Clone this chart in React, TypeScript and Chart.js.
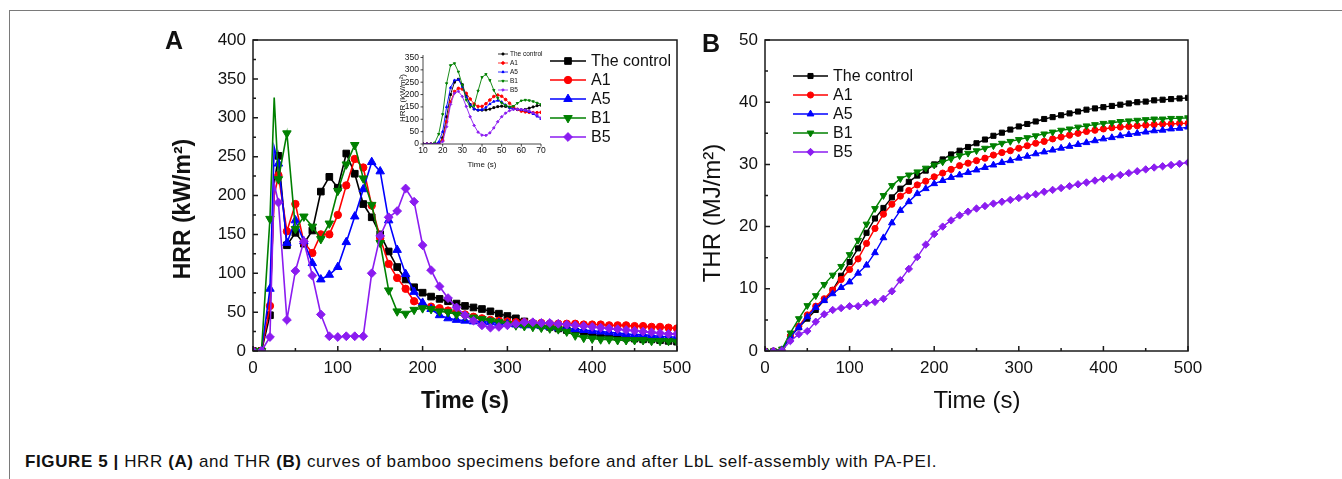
import React, { useEffect, useRef } from 'react';
import { Chart, registerables } from 'chart.js';

Chart.register(...registerables);

const FAMILY = '"Liberation Sans", Arimo, Arial, Helvetica, sans-serif';

// ---------------- data ----------------
const SERIES_NAMES = ['The control', 'A1', 'A5', 'B1', 'B5'];

// Panel A : HRR (kW/m2) vs time (s)
const TIME_A = [0, 10, 20, 25, 30, 40, 50, 60, 70, 80, 90, 100, 110, 120, 130, 140, 150, 160, 170, 180, 190, 200, 210, 220, 230, 240, 250, 260, 270, 280, 290, 300, 310, 320, 330, 340, 350, 360, 370, 380, 390, 400, 410, 420, 430, 440, 450, 460, 470, 480, 490, 500];
const HRR_CONTROL = [0, 0, 46, 215, 251, 136, 152, 138, 155, 205, 224, 210, 254, 228, 189, 172, 150, 128, 108, 92, 82, 75, 70, 67, 64, 61, 58, 56, 54, 51, 48, 45, 42, 38, 35, 33, 31, 29, 27, 25, 23, 21, 20, 19, 18, 17, 16, 15, 15, 14, 13, 12];
const HRR_A1 = [0, 0, 58, 200, 226, 154, 189, 140, 126, 150, 150, 175, 213, 247, 236, 187, 145, 112, 94, 80, 64, 58, 57, 55, 52, 50, 47, 44, 42, 40, 39, 38, 37, 37, 36, 36, 35, 35, 35, 35, 34, 34, 34, 33, 33, 33, 32, 32, 31, 31, 30, 29];
const HRR_A5 = [0, 0, 80, 262, 241, 139, 168, 141, 113, 92, 98, 108, 140, 173, 208, 243, 231, 168, 130, 99, 76, 62, 54, 46, 42, 40, 39, 38, 38, 37, 36, 35, 34, 33, 33, 32, 31, 30, 29, 28, 27, 26, 25, 24, 23, 22, 21, 21, 20, 19, 18, 18];
const HRR_B1 = [0, 0, 170, 326, 221, 280, 157, 173, 160, 144, 164, 206, 240, 265, 222, 188, 139, 78, 51, 48, 53, 55, 54, 51, 50, 47, 45, 43, 41, 39, 37, 35, 33, 32, 31, 30, 29, 28, 25, 20, 17, 16, 15, 15, 14, 14, 14, 14, 13, 13, 13, 12];
const HRR_B5 = [0, 0, 18, 215, 191, 40, 103, 141, 97, 47, 19, 18, 19, 19, 19, 100, 148, 172, 180, 209, 192, 136, 104, 83, 68, 56, 46, 39, 33, 30, 31, 33, 35, 37, 37, 36, 36, 35, 34, 33, 32, 31, 30, 29, 28, 27, 26, 25, 24, 23, 22, 22];

// Inset of panel A : HRR 10-70 s
const TIME_INSET = [10, 12, 14, 16, 18, 20, 22, 24, 26, 28, 30, 32, 34, 36, 38, 40, 42, 44, 46, 48, 50, 52, 54, 56, 58, 60, 62, 64, 66, 68, 70];
const INSET_CONTROL = [0, 0, 0, 0, 0, 25, 110, 200, 250, 262, 240, 195, 160, 142, 137, 137, 138, 141, 147, 151, 153, 152, 149, 144, 140, 138, 140, 145, 150, 155, 157];
const INSET_A1 = [0, 0, 0, 0, 0, 15, 90, 170, 212, 225, 222, 205, 182, 162, 152, 152, 163, 178, 192, 198, 193, 180, 165, 150, 140, 133, 130, 128, 127, 127, 128];
const INSET_A5 = [0, 0, 0, 0, 8, 50, 150, 228, 258, 260, 232, 190, 158, 141, 137, 139, 148, 162, 172, 176, 170, 158, 147, 141, 140, 139, 136, 130, 122, 112, 102];
const INSET_B1 = [0, 0, 0, 5, 40, 120, 245, 318, 326, 292, 238, 178, 150, 155, 215, 270, 282, 258, 218, 186, 166, 156, 150, 153, 165, 175, 178, 176, 172, 166, 160];
const INSET_B5 = [0, 0, 0, 0, 0, 10, 70, 160, 205, 213, 192, 152, 110, 75, 48, 36, 35, 45, 65, 90, 110, 125, 135, 140, 141, 140, 138, 134, 126, 117, 105];

// Panel B : THR (MJ/m2) vs time (s)
const TIME_B = [0, 10, 20, 30, 40, 50, 60, 70, 80, 90, 100, 110, 120, 130, 140, 150, 160, 170, 180, 190, 200, 210, 220, 230, 240, 250, 260, 270, 280, 290, 300, 310, 320, 330, 340, 350, 360, 370, 380, 390, 400, 410, 420, 430, 440, 450, 460, 470, 480, 490, 500];
const THR_CONTROL = [0, 0, 0.2, 2.3, 3.8, 5.2, 6.6, 8.2, 9.8, 12.1, 14.3, 16.5, 19.0, 21.3, 23.0, 24.7, 26.1, 27.2, 28.2, 29.0, 30.0, 30.8, 31.6, 32.2, 32.8, 33.4, 34.0, 34.6, 35.1, 35.6, 36.1, 36.5, 36.9, 37.3, 37.6, 37.9, 38.2, 38.5, 38.8, 39.0, 39.2, 39.4, 39.6, 39.8, 40.0, 40.1, 40.3, 40.4, 40.5, 40.6, 40.7];
const THR_A1 = [0, 0, 0.2, 2.4, 4.0, 5.8, 7.2, 8.4, 9.8, 11.5, 13.1, 14.8, 17.3, 19.7, 22.0, 23.6, 24.9, 25.8, 26.7, 27.3, 28.0, 28.6, 29.2, 29.8, 30.2, 30.6, 31.0, 31.5, 31.9, 32.2, 32.6, 33.0, 33.4, 33.7, 34.1, 34.4, 34.7, 35.0, 35.3, 35.5, 35.7, 35.9, 36.0, 36.1, 36.2, 36.3, 36.4, 36.5, 36.5, 36.6, 36.6];
const THR_A5 = [0, 0, 0.2, 2.3, 3.8, 5.5, 7.0, 8.1, 9.2, 10.2, 11.1, 12.5, 13.8, 15.8, 18.2, 20.6, 22.6, 24.0, 25.3, 26.1, 26.9, 27.4, 27.9, 28.3, 28.7, 29.1, 29.5, 29.9, 30.3, 30.6, 31.0, 31.3, 31.7, 32.0, 32.3, 32.6, 32.9, 33.2, 33.5, 33.8, 34.1, 34.3, 34.6, 34.8, 35.0, 35.2, 35.4, 35.5, 35.7, 35.8, 36.0];
const THR_B1 = [0, 0, 0.3, 2.9, 5.2, 7.3, 8.9, 10.7, 12.2, 13.6, 15.5, 17.8, 20.4, 22.9, 25.0, 26.6, 27.7, 28.3, 28.8, 29.4, 29.9, 30.4, 30.9, 31.4, 31.8, 32.2, 32.6, 33.0, 33.4, 33.7, 34.0, 34.3, 34.6, 34.9, 35.2, 35.5, 35.7, 36.0, 36.2, 36.4, 36.6, 36.7, 36.9, 37.0, 37.1, 37.2, 37.3, 37.3, 37.4, 37.4, 37.5];
const THR_B5 = [0, 0, 0.1, 1.6, 2.7, 3.2, 4.7, 5.9, 6.6, 6.9, 7.2, 7.2, 7.7, 7.9, 8.4, 9.6, 11.4, 13.2, 15.1, 17.1, 18.8, 20.0, 21.0, 21.8, 22.4, 22.9, 23.3, 23.7, 24.0, 24.3, 24.6, 24.9, 25.2, 25.6, 25.9, 26.2, 26.5, 26.8, 27.1, 27.4, 27.7, 28.0, 28.3, 28.6, 28.9, 29.2, 29.5, 29.7, 29.9, 30.1, 30.3];

// tick labels
const TICKS_A_X = [0, 100, 200, 300, 400, 500];
const TICKS_A_Y = [0, 50, 100, 150, 200, 250, 300, 350, 400];
const TICKS_B_X = [0, 100, 200, 300, 400, 500];
const TICKS_B_Y = [0, 10, 20, 30, 40, 50];
const TICKS_IN_X = [10, 20, 30, 40, 50, 60, 70];
const TICKS_IN_Y = [0, 50, 100, 150, 200, 250, 300, 350];

// ---------------- styles ----------------
const COLORS = ['#000000', '#ff0000', '#0000ff', '#008000', '#8b1cf0'];
const STYLES = ['rect', 'circle', 'triangle', 'triangle', 'rectRot'];
const ROTS = [0, 0, 0, 180, 0];
const RADII_A = [4.7, 3.7, 4.9, 4.9, 4.4];
const RADII_B = [3.6, 3.1, 3.9, 3.9, 3.7];
const RADII_IN = [1.3, 1.3, 1.3, 1.3, 1.3];

function drawMarker(ctx: CanvasRenderingContext2D, style: string, x: number, y: number, r: number, rot: number) {
  ctx.beginPath();
  if (style === 'circle') {
    ctx.arc(x, y, r, 0, Math.PI * 2);
  } else if (style === 'rect') {
    const s = r * Math.SQRT1_2;
    ctx.rect(x - s, y - s, 2 * s, 2 * s);
  } else if (style === 'triangle') {
    let rad = (rot * Math.PI) / 180;
    ctx.moveTo(x + Math.sin(rad) * r, y - Math.cos(rad) * r);
    rad += (2 * Math.PI) / 3;
    ctx.lineTo(x + Math.sin(rad) * r, y - Math.cos(rad) * r);
    rad += (2 * Math.PI) / 3;
    ctx.lineTo(x + Math.sin(rad) * r, y - Math.cos(rad) * r);
    ctx.closePath();
  } else {
    ctx.moveTo(x - r, y);
    ctx.lineTo(x, y - r);
    ctx.lineTo(x + r, y);
    ctx.lineTo(x, y + r);
    ctx.closePath();
  }
  ctx.fill();
  ctx.stroke();
}

type TextSpec = { text: string; x: number; y: number; font: string; rotate?: boolean };
type LegendSpec = { x0: number; x1: number; xt: number; ys: number[]; font: string; radii: number[]; lw: number };
type DecorCfg = {
  id: string;
  ox: number;
  oy: number;
  box: boolean;
  xLabels: number[];
  yLabels: number[];
  minors: boolean;
  dir: number;
  majorLen: number;
  minorLen: number;
  axisWidth: number;
  texts: TextSpec[];
  legend: LegendSpec;
};

function tickList(labels: number[], minors: boolean): [number, boolean][] {
  const out: [number, boolean][] = [];
  labels.forEach((v, i) => {
    out.push([v, true]);
    if (minors && i < labels.length - 1) out.push([(v + labels[i + 1]) / 2, false]);
  });
  return out;
}

function decorPlugin(cfg: DecorCfg) {
  return {
    id: 'decor' + cfg.id,
    afterDraw(chart: any) {
      const { ctx, chartArea: a, scales } = chart;
      const xs = scales.x;
      const ys = scales.y;
      ctx.save();
      ctx.strokeStyle = '#1a1a1a';
      ctx.lineWidth = cfg.axisWidth;
      if (cfg.box) {
        ctx.strokeRect(a.left, a.top, a.right - a.left, a.bottom - a.top);
      } else {
        ctx.beginPath();
        ctx.moveTo(a.left, a.top);
        ctx.lineTo(a.left, a.bottom);
        ctx.lineTo(a.right, a.bottom);
        ctx.stroke();
      }
      ctx.beginPath();
      tickList(cfg.xLabels, cfg.minors).forEach(([v, major]) => {
        const p = xs.getPixelForValue(v);
        const l = major ? cfg.majorLen : cfg.minorLen;
        ctx.moveTo(p, a.bottom);
        ctx.lineTo(p, a.bottom - l * cfg.dir);
      });
      tickList(cfg.yLabels, cfg.minors).forEach(([v, major]) => {
        const p = ys.getPixelForValue(v);
        const l = major ? cfg.majorLen : cfg.minorLen;
        ctx.moveTo(a.left, p);
        ctx.lineTo(a.left + l * cfg.dir, p);
      });
      ctx.stroke();

      ctx.fillStyle = '#111';
      cfg.texts.forEach((t) => {
        ctx.save();
        ctx.font = t.font;
        ctx.textAlign = 'center';
        ctx.textBaseline = 'middle';
        ctx.translate(t.x - cfg.ox, t.y - cfg.oy);
        if (t.rotate) ctx.rotate(-Math.PI / 2);
        ctx.fillText(t.text, 0, 0);
        ctx.restore();
      });

      const lg = cfg.legend;
      SERIES_NAMES.forEach((name, i) => {
        const y = lg.ys[i] - cfg.oy;
        ctx.strokeStyle = COLORS[i];
        ctx.fillStyle = COLORS[i];
        ctx.lineWidth = lg.lw;
        ctx.beginPath();
        ctx.moveTo(lg.x0 - cfg.ox, y);
        ctx.lineTo(lg.x1 - cfg.ox, y);
        ctx.stroke();
        ctx.lineWidth = 1;
        drawMarker(ctx, STYLES[i], (lg.x0 + lg.x1) / 2 - cfg.ox, y, lg.radii[i], ROTS[i]);
        ctx.fillStyle = '#111';
        ctx.font = lg.font;
        ctx.textAlign = 'left';
        ctx.textBaseline = 'middle';
        ctx.fillText(name, lg.xt - cfg.ox, y + 0.5);
      });
      ctx.restore();
    },
  };
}

function makeSets(time: number[], series: number[][], radii: number[], lw: number, markerEvery: number) {
  return series.map((vals, i) => ({
    label: SERIES_NAMES[i],
    data: vals.map((v, k) => ({ x: time[k], y: v })),
    borderColor: COLORS[i],
    backgroundColor: COLORS[i],
    pointBackgroundColor: COLORS[i],
    pointBorderColor: COLORS[i],
    pointStyle: STYLES[i],
    pointRotation: ROTS[i],
    pointRadius: (c: any) => (time[c.dataIndex] % markerEvery === 0 ? radii[i] : 0),
    pointBorderWidth: 1,
    borderWidth: lw,
    tension: 0,
    fill: false,
    order: 5 - i,
  }));
}

function axis(min: number, max: number, labels: number[], size: number, padding: number, fitKey: 'width' | 'height', fitVal: number) {
  return {
    type: 'linear' as const,
    min,
    max,
    afterBuildTicks: (s: any) => {
      s.ticks = labels.map((v) => ({ value: v }));
    },
    afterFit: (s: any) => {
      s[fitKey] = fitVal;
    },
    ticks: { color: '#111', font: { family: FAMILY, size }, padding, maxRotation: 0, autoSkip: false },
    grid: { display: false, drawTicks: false },
    border: { display: false },
  };
}

function makeConfig(datasets: any[], pad: any, x: any, y: any, plugin: any) {
  return {
    type: 'line' as const,
    data: { datasets },
    options: {
      animation: false as const,
      responsive: false,
      devicePixelRatio: 1,
      events: [],
      layout: { padding: pad },
      plugins: { legend: { display: false }, tooltip: { enabled: false }, title: { display: false } },
      scales: { x, y },
    },
    plugins: [plugin],
  };
}

// canvas placements (page px)
const A_BOX = { left: 150, top: 20, width: 570, height: 400 };
const B_BOX = { left: 690, top: 20, width: 540, height: 400 };
const IN_BOX = { left: 360, top: 45, width: 190, height: 130 };

export default function App() {
  const refA = useRef<HTMLCanvasElement>(null);
  const refB = useRef<HTMLCanvasElement>(null);
  const refIn = useRef<HTMLCanvasElement>(null);

  useEffect(() => {
    const charts: Chart[] = [];

    const decorA = decorPlugin({
      id: 'A', ox: A_BOX.left, oy: A_BOX.top, box: true,
      xLabels: TICKS_A_X, yLabels: TICKS_A_Y, minors: true, dir: 1, majorLen: 5, minorLen: 3, axisWidth: 1.5,
      texts: [
        { text: 'A', x: 174, y: 42, font: `bold 25px ${FAMILY}` },
        { text: 'HRR (kW/m²)', x: 184, y: 209, font: `bold 23px ${FAMILY}`, rotate: true },
        { text: 'Time (s)', x: 465, y: 402, font: `bold 23px ${FAMILY}` },
      ],
      legend: { x0: 550, x1: 586, xt: 591, ys: [61, 80, 99, 118, 137], font: `16px ${FAMILY}`, radii: RADII_A, lw: 1.6 },
    });
    charts.push(new Chart(refA.current as HTMLCanvasElement, makeConfig(
      makeSets(TIME_A, [HRR_CONTROL, HRR_A1, HRR_A5, HRR_B1, HRR_B5], RADII_A, 1.6, 10),
      { top: 20, right: A_BOX.left + A_BOX.width - 677, left: 0, bottom: 0 },
      axis(0, 500, TICKS_A_X, 17, 7, 'height', 69),
      axis(0, 400, TICKS_A_Y, 17, 7, 'width', 103),
      decorA,
    ) as any));

    const decorB = decorPlugin({
      id: 'B', ox: B_BOX.left, oy: B_BOX.top, box: true,
      xLabels: TICKS_B_X, yLabels: TICKS_B_Y, minors: true, dir: 1, majorLen: 5, minorLen: 3, axisWidth: 1.5,
      texts: [
        { text: 'B', x: 711, y: 45, font: `bold 25px ${FAMILY}` },
        { text: 'THR (MJ/m²)', x: 713, y: 213, font: `24px ${FAMILY}`, rotate: true },
        { text: 'Time (s)', x: 977, y: 401, font: `24px ${FAMILY}` },
      ],
      legend: { x0: 793, x1: 828, xt: 833, ys: [76, 95, 114, 133, 152], font: `16px ${FAMILY}`, radii: RADII_B, lw: 1.5 },
    });
    charts.push(new Chart(refB.current as HTMLCanvasElement, makeConfig(
      makeSets(TIME_B, [THR_CONTROL, THR_A1, THR_A5, THR_B1, THR_B5], RADII_B, 1.4, 10),
      { top: 20, right: B_BOX.left + B_BOX.width - 1188, left: 0, bottom: 0 },
      axis(0, 500, TICKS_B_X, 17, 7, 'height', 69),
      axis(0, 50, TICKS_B_Y, 17, 7, 'width', 75),
      decorB,
    ) as any));

    const decorIn = decorPlugin({
      id: 'In', ox: IN_BOX.left, oy: IN_BOX.top, box: false,
      xLabels: TICKS_IN_X, yLabels: TICKS_IN_Y, minors: false, dir: -1, majorLen: 2.5, minorLen: 1.5, axisWidth: 0.8,
      texts: [
        { text: 'HRR (kW/m²)', x: 403, y: 98, font: `8px ${FAMILY}`, rotate: true },
        { text: 'Time (s)', x: 482, y: 165, font: `8px ${FAMILY}` },
      ],
      legend: { x0: 498, x1: 508, xt: 510, ys: [54, 63, 72, 81, 90], font: `6.5px ${FAMILY}`, radii: RADII_IN, lw: 0.8 },
    });
    charts.push(new Chart(refIn.current as HTMLCanvasElement, makeConfig(
      makeSets(TIME_INSET, [INSET_CONTROL, INSET_A1, INSET_A5, INSET_B1, INSET_B5], RADII_IN, 0.9, 2),
      { top: 10, right: IN_BOX.left + IN_BOX.width - 541, left: 0, bottom: 0 },
      axis(10, 70, TICKS_IN_X, 8.5, 2, 'height', IN_BOX.top + IN_BOX.height - 144),
      axis(0, 360, TICKS_IN_Y, 8.5, 4, 'width', 423 - IN_BOX.left),
      decorIn,
    ) as any));

    return () => charts.forEach((c) => c.destroy());
  }, []);

  const canvasStyle = (b: { left: number; top: number; width: number; height: number }) => ({
    position: 'absolute' as const, left: b.left, top: b.top, width: b.width, height: b.height,
  });

  return (
    <div style={{ position: 'absolute', left: 0, top: 0, width: 1342, height: 479, background: '#ffffff', overflow: 'hidden' }}>
      <div style={{ position: 'absolute', left: 9, top: 10, width: 1345, height: 480, borderTop: '1px solid #7a7a7a', borderLeft: '1px solid #7a7a7a' }} />
      <canvas ref={refA} width={A_BOX.width} height={A_BOX.height} style={canvasStyle(A_BOX)} />
      <canvas ref={refB} width={B_BOX.width} height={B_BOX.height} style={canvasStyle(B_BOX)} />
      <canvas ref={refIn} width={IN_BOX.width} height={IN_BOX.height} style={canvasStyle(IN_BOX)} />
      <div style={{ position: 'absolute', left: 25, top: 452, fontFamily: FAMILY, fontSize: 17, letterSpacing: '0.6px', lineHeight: '20px', whiteSpace: 'nowrap', color: '#111' }}>
        <b>FIGURE 5 |</b> HRR <b>(A)</b> and THR <b>(B)</b> curves of bamboo specimens before and after LbL self-assembly with PA-PEI.
      </div>
    </div>
  );
}
